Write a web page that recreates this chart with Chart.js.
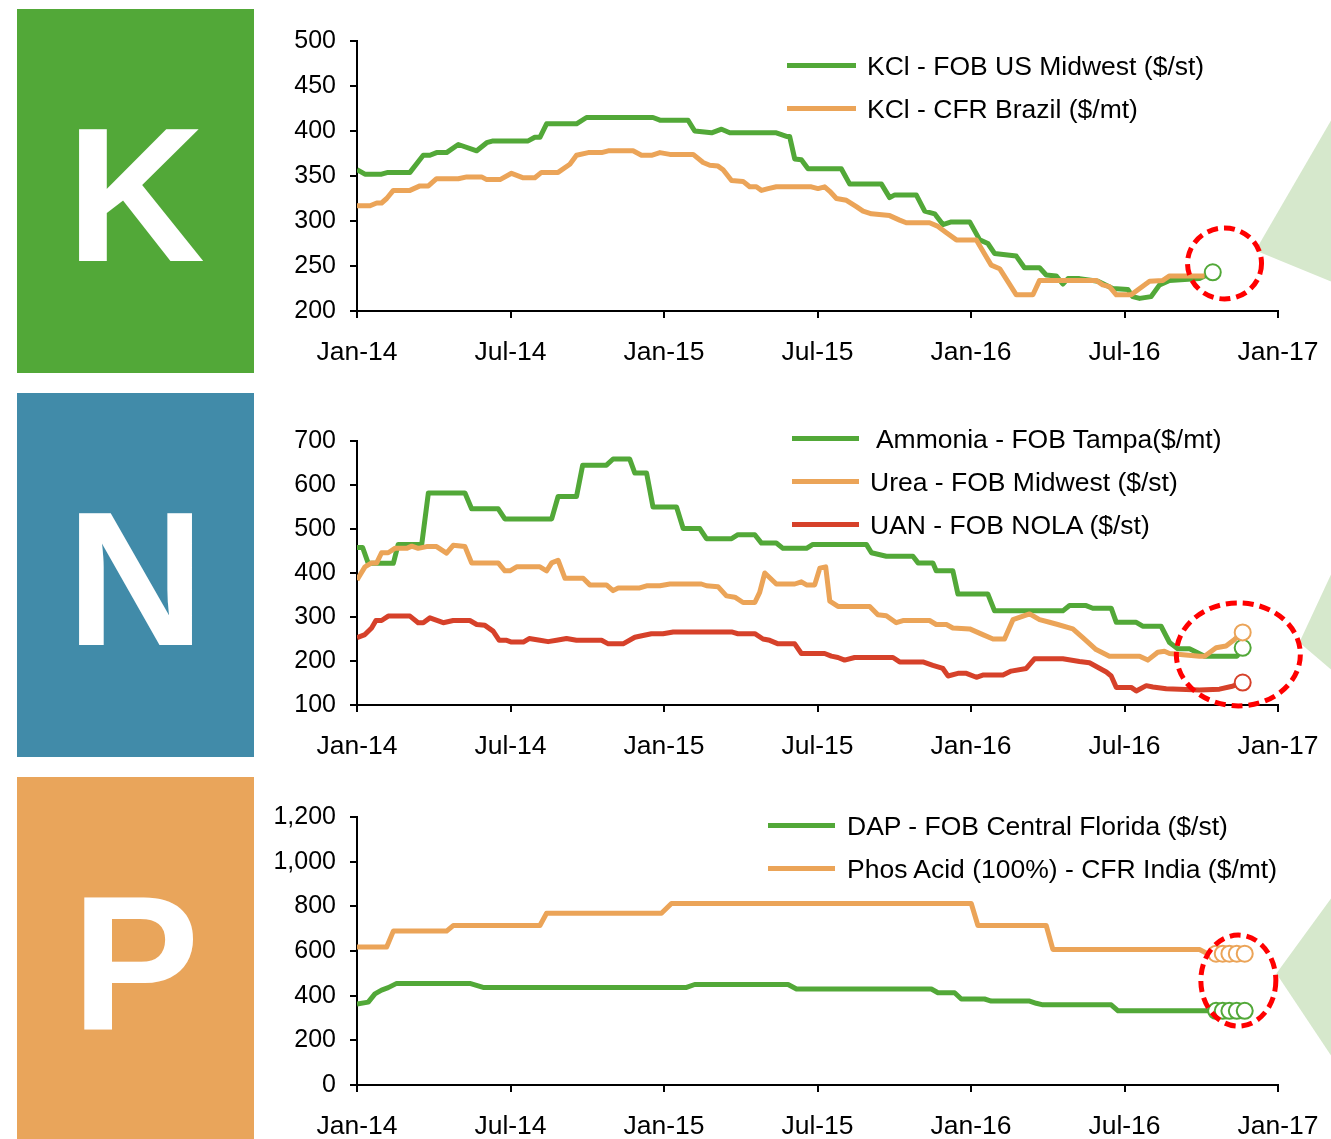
<!DOCTYPE html>
<html>
<head>
<meta charset="utf-8">
<script src="https://cdn.jsdelivr.net/npm/chart.js@4.4.0/dist/chart.umd.min.js"></script>
<style>
body { margin: 0; width: 1331px; height: 1139px; overflow: hidden; background: #fff; position: relative;
	font-family: "Liberation Sans", Arial, sans-serif; }
.tile { position: absolute; left: 17px; width: 237px; height: 364px; color: #fff; font-weight: bold;
	font-size: 192px; text-align: center; line-height: 364px; }
.tile span { position: relative; top: 4px; }
.row { position: absolute; display: flex; align-items: center; height: 30px; white-space: pre;
	font-size: 26.5px; color: #000; }
.row i { display: block; height: 5px; }
.row span { position: relative; top: 1px; }
canvas { position: absolute; left: 260px; }
</style>
</head>
<body>
<div class="tile" style="top:9px;background:#52a838"><span>K</span></div>
<div class="tile" style="top:393px;background:#418ba9"><span>N</span></div>
<div class="tile" style="top:777px;background:#e9a55b"><span>P</span></div>
<script>
Chart.defaults.font.family = "'Liberation Sans', Arial, sans-serif";

const GREEN = "#52a838";
const ORANGE = "#eba458";
const RED = "#d6412a";

// x = months since Jan-14
const tickLabels = ["Jan-14", "Jul-14", "Jan-15", "Jul-15", "Jan-16", "Jul-16", "Jan-17"];

const kclUs = [[0,357],[0.31,352],[0.96,352],[1.21,354],[2.07,354],[2.59,373],[2.85,373],[3.11,376],[3.5,376],
	[3.96,385],[4.68,378],[5.07,387],[5.32,389],[6.69,389],[6.95,393],[7.15,393],[7.41,408],[8.58,408],[8.97,415],
	[11.57,415],[11.84,412],[12.94,412],[13.2,400],[13.86,398],[14.25,402],[14.57,398],[16.39,398],[16.79,394],
	[16.91,394],[17.11,369],[17.37,368],[17.63,358],[18.93,358],[19.26,341],[20.5,341],[20.82,326],[21.02,329],
	[21.86,329],[22.19,311],[22.58,308],[22.9,296],[23.23,299],[23.95,299],[24.34,279],[24.66,275],[24.92,264],
	[25.77,261],[26.09,248],[26.68,248],[26.94,240],[27.33,239],[27.59,230],[27.79,236],[28.24,236],[28.96,233],
	[29.54,225],[30.13,224],[30.32,216],[30.59,214],[31.04,216],[31.37,229],[31.76,234],[32.93,236],[33.45,243]];

const kclBrazil = [[0,317],[0.51,317],[0.77,320],[0.96,320],[1.16,325],[1.42,334],[2.07,334],[2.46,339],[2.79,339],
	[3.11,347],[3.96,347],[4.29,349],[4.87,349],[5.07,346],[5.59,346],[6.04,353],[6.5,348],[6.95,348],[7.21,354],
	[7.86,354],[8.32,363],[8.58,373],[9.04,376],[9.56,376],[9.82,378],[10.79,378],[11.12,373],[11.51,373],
	[11.84,376],[12.23,374],[13.14,374],[13.53,365],[13.79,362],[14.11,361],[14.31,357],[14.64,345],[15.09,344],
	[15.35,338],[15.61,338],[15.81,334],[16.07,336],[16.39,338],[17.76,338],[18.02,336],[18.28,338],[18.48,333],
	[18.74,325],[19.13,323],[19.52,316],[19.78,311],[20.11,308],[20.82,306],[21.21,301],[21.47,298],[22.38,298],
	[22.71,294],[23.04,287],[23.43,279],[24.21,279],[24.6,260],[24.79,251],[25.12,247],[25.77,218],[26.42,218],
	[26.68,234],[28.89,234],[29.15,229],[29.41,227],[29.68,218],[30.26,218],[30.98,233],[31.5,234],[31.76,239],
	[33.13,239]];

const ammonia = [[0,458],[0.22,458],[0.44,422],[1.42,422],[1.61,465],[2.53,465],[2.79,582],[4.22,582],[4.48,546],
	[5.52,546],[5.78,523],[7.61,523],[7.86,574],[8.58,574],[8.82,645],[9.75,645],[10.01,659],[10.66,659],
	[10.86,627],[11.32,627],[11.57,550],[12.49,550],[12.75,501],[13.4,501],[13.66,478],[14.64,478],[14.89,487],
	[15.55,487],[15.81,468],[16.39,468],[16.65,456],[17.57,456],[17.82,465],[19.91,465],[20.11,446],[20.69,438],
	[21.73,438],[21.93,423],[22.51,423],[22.64,405],[23.29,405],[23.49,352],[24.66,352],[24.92,314],[27.59,314],
	[27.85,326],[28.5,326],[28.76,320],[29.48,320],[29.68,288],[30.46,288],[30.71,279],[31.43,279],[31.76,242],
	[32.08,228],[32.54,228],[33.13,211],[34.4,211],[34.62,230]];

const urea = [[0,384],[0.31,414],[0.57,423],[0.77,423],[0.96,446],[1.22,446],[1.48,456],[1.94,456],[2.14,461],
	[2.39,456],[2.72,460],[3.11,460],[3.5,445],[3.76,463],[4.22,460],[4.48,423],[5.52,423],[5.78,405],[5.98,405],
	[6.24,414],[7.15,414],[7.41,405],[7.61,423],[7.86,429],[8.13,388],[8.84,388],[9.1,373],[9.75,373],[10.01,360],
	[10.21,366],[11.05,366],[11.32,371],[11.84,371],[12.23,375],[13.46,375],[13.66,371],[14.11,369],[14.44,348],
	[14.77,345],[15.09,333],[15.55,333],[15.74,356],[15.94,400],[16.39,375],[17.11,375],[17.37,380],[17.57,373],
	[17.89,373],[18.09,411],[18.32,414],[18.48,336],[18.8,324],[20.04,324],[20.36,305],[20.69,303],[21.08,287],
	[21.34,292],[22.38,292],[22.64,283],[23.04,283],[23.29,275],[23.95,273],[24.46,260],[24.86,250],[25.31,250],
	[25.64,294],[26.29,307],[26.68,294],[27.07,288],[27.39,283],[27.98,273],[28.37,253],[28.89,226],[29.41,211],
	[30.59,211],[30.91,202],[31.3,220],[31.56,222],[31.76,217],[32.93,211],[33.13,211],[33.58,230],[33.97,234],
	[34.3,249],[34.62,265]];

const uan = [[0,253],[0.31,260],[0.57,275],[0.74,292],[0.96,292],[1.22,302],[2.07,302],[2.39,287],[2.59,287],
	[2.85,298],[3.37,287],[3.76,292],[4.41,292],[4.68,283],[5,281],[5.32,268],[5.56,247],[5.85,247],[6.04,243],
	[6.5,243],[6.73,251],[7.15,247],[7.47,244],[7.8,247],[8.19,251],[8.58,247],[9.56,247],[9.82,239],[10.4,239],
	[10.86,254],[11.18,258],[11.51,262],[11.96,262],[12.36,266],[14.64,266],[14.89,262],[15.55,262],[15.87,250],
	[16.13,247],[16.46,239],[17.11,239],[17.37,217],[18.28,217],[18.54,211],[18.8,208],[19.06,202],[19.45,208],
	[20.95,208],[21.21,198],[22.12,198],[22.51,190],[22.9,183],[23.1,166],[23.49,172],[23.82,172],[24.21,163],
	[24.46,168],[25.25,168],[25.57,177],[26.16,183],[26.48,205],[27.59,205],[28.24,199],[28.63,196],[29.29,175],
	[29.48,166],[29.68,140],[30.26,140],[30.46,132],[30.85,144],[31.11,141],[31.63,137],[32.93,134],[33.71,136],
	[34.17,142],[34.62,151]];

const dap = [[0,363],[0.44,371],[0.7,408],[0.96,425],[1.22,436],[1.55,455],[4.41,455],[4.93,437],[12.88,437],
	[13.2,450],[16.85,450],[17.18,430],[22.45,430],[22.71,413],[23.36,413],[23.62,385],[24.53,385],[24.79,376],
	[26.29,376],[26.55,366],[26.81,359],[29.48,359],[29.75,332],[33.19,332],[33.58,332],[33.84,332],[34.1,332],
	[34.39,332],[34.7,332]];

const phosAcid = [[0,618],[1.16,618],[1.42,689],[3.5,689],[3.76,714],[7.15,714],[7.41,769],[11.9,769],[12.29,813],
	[24.01,813],[24.27,714],[26.94,714],[27.2,607],[32.93,607],[33.25,588],[33.58,588],[33.84,588],[34.1,588],
	[34.39,588],[34.7,588]];

const panels = [
	{
		top: 0, height: 382, padTop: 41, yMin: 200, yMax: 500, yStep: 50,
		series: [
			{ label: "KCl - FOB US Midwest ($/st)", data: kclUs, color: GREEN, marks: 1, order: 2 },
			{ label: "KCl - CFR Brazil ($/mt)", data: kclBrazil, color: ORANGE, marks: 0, order: 1 },
		],
		legend: { left: 787, line: 69, gap: 11, rows: [65, 108] },
		spot: { x: 33.91, y: 252.8, rx: 37, ry: 35.5, apex: [31, -13], edge: [-143, 18] },
	},
	{
		top: 385, height: 391, padTop: 56, yMin: 100, yMax: 700, yStep: 100,
		series: [
			{ label: " Ammonia - FOB Tampa($/mt)", data: ammonia, color: GREEN, marks: 1, order: 3 },
			{ label: "Urea - FOB Midwest ($/st)", data: urea, color: ORANGE, marks: 1, order: 2 },
			{ label: "UAN - FOB NOLA ($/st)", data: uan, color: RED, marks: 1, order: 1 },
		],
		legend: { left: 792, line: 67, gap: 11, rows: [438, 481, 524] },
		spot: { x: 34.45, y: 215, rx: 62, ry: 51.5, apex: [61, -12], edge: [-80, 15] },
	},
	{
		top: 776, height: 380, padTop: 41, yMin: 0, yMax: 1200, yStep: 200,
		series: [
			{ label: "DAP - FOB Central Florida ($/st)", data: dap, color: GREEN, marks: 5, order: 2 },
			{ label: "Phos Acid (100%) - CFR India ($/mt)", data: phosAcid, color: ORANGE, marks: 5, order: 1 },
		],
		legend: { left: 768, line: 67, gap: 12, rows: [825, 868] },
		spot: { x: 34.45, y: 467.5, rx: 37.5, ry: 45.5, apex: [38, -7], edge: [-82, 75] },
	},
];

// red dashed ring + pale green fan
const spotPlugin = {
	id: "spot",
	beforeDatasetsDraw(chart, args, o) {
		const cx = chart.scales.x.getPixelForValue(o.x);
		const cy = chart.scales.y.getPixelForValue(o.y);
		const c = chart.ctx;
		c.save();
		c.fillStyle = "#d6e8cc";
		c.beginPath();
		c.moveTo(cx + o.apex[0], cy + o.apex[1]);
		c.lineTo(chart.width, cy + o.edge[0]);
		c.lineTo(chart.width, cy + o.edge[1]);
		c.closePath();
		c.fill();
		c.restore();
	},
	afterDatasetsDraw(chart, args, o) {
		const cx = chart.scales.x.getPixelForValue(o.x);
		const cy = chart.scales.y.getPixelForValue(o.y);
		const c = chart.ctx;
		c.save();
		c.strokeStyle = "#ff0000";
		c.lineWidth = 5;
		c.setLineDash([11, 6]);
		c.beginPath();
		c.ellipse(cx, cy, o.rx, o.ry, 0, 0, Math.PI * 2);
		c.stroke();
		c.restore();
	},
};

function axisStyle() {
	return {
		grid: { drawOnChartArea: false, drawTicks: true, tickLength: 7, color: "#000", lineWidth: 2 },
		border: { color: "#000", width: 2 },
	};
}

function buildPanel(p) {
	const canvas = document.createElement("canvas");
	canvas.width = 1071;
	canvas.height = p.height;
	canvas.style.top = p.top + "px";
	document.body.appendChild(canvas);

	new Chart(canvas, {
		type: "line",
		data: {
			datasets: p.series.map((s) => ({
				label: s.label,
				data: s.data,
				order: s.order,
				borderColor: s.color,
				borderWidth: 5,
				borderJoinStyle: "round",
				tension: 0,
				fill: false,
				pointBackgroundColor: "#fff",
				pointBorderColor: s.color,
				pointBorderWidth: 2,
				pointRadius: (ctx) => (ctx.dataIndex >= s.data.length - s.marks ? 8 : 0),
				pointHoverRadius: (ctx) => (ctx.dataIndex >= s.data.length - s.marks ? 8 : 0),
			})),
		},
		options: {
			responsive: false,
			animation: false,
			events: [],
			layout: { padding: { top: p.padTop, right: 53, left: 0, bottom: 0 } },
			plugins: { legend: { display: false }, tooltip: { enabled: false }, spot: p.spot },
			scales: {
				x: {
					type: "linear",
					min: 0,
					max: 36,
					...axisStyle(),
					ticks: {
						stepSize: 6,
						autoSkip: false,
						maxRotation: 0,
						padding: 19,
						color: "#000",
						font: { size: 26.5 },
						callback: (v) => tickLabels[v / 6],
					},
					afterFit: (s) => {
						s.height = 71;
						s.paddingLeft = 0;
						s.paddingRight = 0;
					},
				},
				y: {
					min: p.yMin,
					max: p.yMax,
					...axisStyle(),
					ticks: {
						stepSize: p.yStep,
						padding: 14,
						color: "#000",
						font: { size: 25 },
						callback: (v) => v.toLocaleString("en-US"),
					},
					afterFit: (s) => { s.width = 97; },
				},
			},
		},
		plugins: [spotPlugin],
	});

	p.series.forEach((s, i) => {
		const row = document.createElement("div");
		row.className = "row";
		row.style.left = p.legend.left + "px";
		row.style.top = p.legend.rows[i] - 15 + "px";
		row.innerHTML = `<i style="width:${p.legend.line}px;margin-right:${p.legend.gap}px;background:${s.color}"></i><span></span>`;
		row.querySelector("span").textContent = s.label;
		document.body.appendChild(row);
	});
}

panels.forEach(buildPanel);
</script>
</body>
</html>
